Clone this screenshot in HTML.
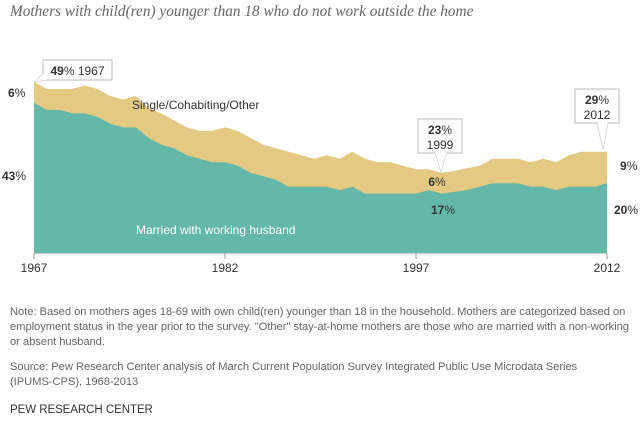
<!DOCTYPE html>
<html><head><meta charset="utf-8"><style>
body{margin:0;width:640px;height:440px;background:#fff;font-family:"Liberation Sans",sans-serif;overflow:hidden}
.note{position:absolute;left:10px;font-size:11.2px;color:#666;line-height:15px;white-space:nowrap;letter-spacing:-0.05px}
</style></head><body>
<div style="position:absolute;left:10px;top:3px;font-family:'Liberation Serif',serif;font-style:italic;font-size:15.3px;color:#666">Mothers with child(ren) younger than 18 who do not work outside the home</div>
<svg width="640" height="300" style="position:absolute;left:0;top:0" font-family="Liberation Sans, sans-serif">
<g id="g"></g>
</svg>
<div class="note" style="top:305px">Note: Based on mothers ages 18-69 with own child(ren) younger than 18 in the household. Mothers are categorized based on<br>employment status in the year prior to the survey. "Other" stay-at-home mothers are those who are married with a non-working<br>or absent husband.</div>
<div class="note" style="top:360px">Source: Pew Research Center analysis of March Current Population Survey Integrated Public Use Microdata Series<br>(IPUMS-CPS), 1968-2013</div>
<div class="note" style="top:403px;color:#333;font-size:11.5px">PEW RESEARCH CENTER</div>
<script>
const years=[];for(let y=1967;y<=2012;y++)years.push(y);
const married=[43,41,41,40,40,39,37,36,36,33,31,30,28,27,26,26,25,23,22,21,19,19,19,19,18,19,17,17,17,17,17,18,17,17.5,18,19,20,20,20,19,19,18,19,19,19,20];
const total=[49,47,47,47,48,47,45,44,45,41.5,40,38,36,35,35,36,35,33,31,30,29,28,27,28,27,29,27,26,26,25,24,24,23,23.5,24.3,25,27,27,27,26,27,26,28,29,29,29];
const xTicks=[1967,1982,1997,2012];
const NS='http://www.w3.org/2000/svg';
const X=y=>34+(y-1967)*(573/45), Y=v=>253-v*3.49;
const g=document.getElementById('g');
function mk(t,a,p){const e=document.createElementNS(NS,t);for(const k in a)e.setAttribute(k,a[k]);(p||g).appendChild(e);return e;}
let d='M'+X(1967)+','+Y(0);years.forEach((y,i)=>d+='L'+X(y)+','+Y(total[i]));d+='L'+X(2012)+','+Y(0)+'Z';
const a1=mk('path',{d:d,fill:'#e3c982'});


d='M'+X(1967)+','+Y(0);years.forEach((y,i)=>d+='L'+X(y)+','+Y(married[i]));d+='L'+X(2012)+','+Y(0)+'Z';
const a2=mk('path',{d:d,fill:'#63b8aa'});


const ax=mk('line',{x1:34,x2:X(2012),y1:253.5,y2:253.5,stroke:'#ccc'});


xTicks.forEach(t=>{mk('line',{x1:X(t),x2:X(t),y1:253,y2:259,stroke:'#999'});
const tx=mk('text',{x:X(t),y:272,'text-anchor':'middle','font-size':12,fill:'#333'});tx.textContent=t;

});
function txt(x,y,s,opt,name){const t=mk('text',Object.assign({x:x,y:y,'font-size':12,fill:'#333'},opt||{}));t.innerHTML=s;

return t;}
txt(8,97,'<tspan font-weight="bold">6</tspan>%',{},'label-6pct-1967');
txt(2,180,'<tspan font-weight="bold">43</tspan>%',{},'label-43pct-1967');
txt(620,170,'<tspan font-weight="bold">9</tspan>%',{},'label-9pct-2012');
txt(614,214,'<tspan font-weight="bold">20</tspan>%',{},'label-20pct-2012');
txt(437,186,'<tspan font-weight="bold">6</tspan>%',{'text-anchor':'middle'},'label-6pct-1999');
txt(443,214,'<tspan font-weight="bold">17</tspan>%',{'text-anchor':'middle'},'label-17pct-1999');
txt(132,109,'Single/Cohabiting/Other',{},'series-label-single');
txt(136,234,'Married with working husband',{fill:'#fff'},'series-label-married');
function box(x,y,w,h,tip,lines,name){const gg=mk('g',{});


mk('path',{d:tip,fill:'#fff',stroke:'#bbb'},gg);
mk('rect',{x:x,y:y,width:w,height:h,fill:'#fff',stroke:'#bbb'},gg);
mk('path',{d:tip,fill:'#fff',stroke:'none'},gg);
lines.forEach(l=>{const t=mk('text',{x:x+w/2,y:l[0],'text-anchor':'middle','font-size':12,fill:'#333'},gg);t.innerHTML=l[1];});}
box(43,60,69,20,'M43,74 L35,82 L50,79Z',[[75,'<tspan font-weight="bold">49</tspan>% 1967']],'callout-1967');
box(418,119,44,34,'M435,152 L441,172 L446,152Z',[[134,'<tspan font-weight="bold">23</tspan>%'],[149,'1999']],'callout-1999');
box(575,89,44,34,'M597,122 L603,149 L608,122Z',[[104,'<tspan font-weight="bold">29</tspan>%'],[119,'2012']],'callout-2012');
</script>
</body></html>
